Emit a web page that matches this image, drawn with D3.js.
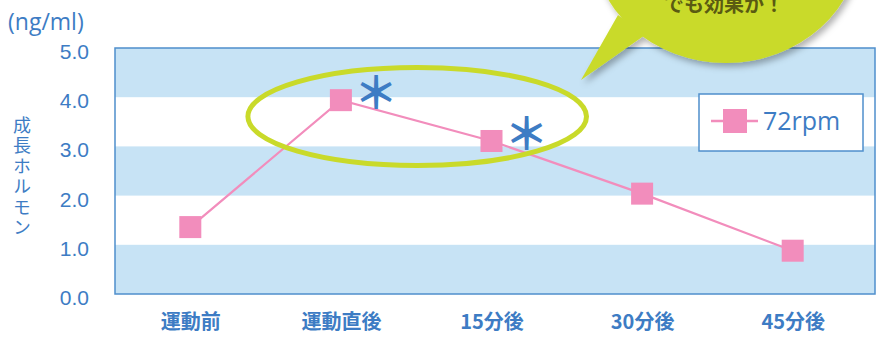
<!DOCTYPE html>
<html><head><meta charset="utf-8">
<script src="https://cdn.jsdelivr.net/npm/d3@7"></script>
<style>
body{margin:0;background:#fff;}
svg{display:block;font-family:"Open Sans","Noto Sans CJK JP",sans-serif;}
</style></head>
<body>
<svg id="c" width="884" height="340"></svg>
<script>
const categories = ["運動前","運動直後","15分後","30分後","45分後"];
const values72 = [1.36, 3.94, 3.11, 2.04, 0.88];
const yTicks = [0,1,2,3,4,5];
const yTickLabels = ["0.0","1.0","2.0","3.0","4.0","5.0"];
const seriesName = "72rpm";
const significant = [false, true, true, false, false];
const calloutText = "でも効果か！";

const blue = "#3d7cc4", pink = "#f28dbc", band = "#c7e3f5", green = "#c9da2a";
const svg = d3.select("#c");
const plotL = 115, plotR = 875, plotT = 48, plotB = 294;
const x = d3.scalePoint().domain(categories).range([plotL, 868]).padding(0.5);
const y = d3.scaleLinear().domain([0,5]).range([plotB, plotT]);

const defs = svg.append("defs");
const f = defs.append("filter").attr("id","sh").attr("x","-20%").attr("y","-20%").attr("width","140%").attr("height","140%");
f.append("feDropShadow").attr("dx",3).attr("dy",4).attr("stdDeviation",3).attr("flood-color","#000").attr("flood-opacity",0.3);

// bands
const bandIdx = [0,2,4];
svg.append("g").selectAll("rect").data(bandIdx).join("rect")
  .attr("x", plotL).attr("width", plotR - plotL)
  .attr("y", d => y(d+1)).attr("height", d => y(d) - y(d+1))
  .attr("fill", band);
svg.append("rect").attr("x",plotL).attr("y",plotT).attr("width",plotR-plotL).attr("height",plotB-plotT)
  .attr("fill","none").attr("stroke","#4f8fcc").attr("stroke-width",1.5);

// y axis
const yAxis = d3.axisLeft(y).tickValues(yTicks).tickFormat((d,i)=>yTickLabels[i]).tickSize(0).tickPadding(26);
const ya = svg.append("g").attr("transform",`translate(${plotL},0)`).call(yAxis);
ya.select(".domain").remove();
ya.selectAll("text").attr("fill",blue).style("font-size","21px").attr("dy","0.5em");

// x axis
const xAxis = d3.axisBottom(x).tickSize(0).tickPadding(21);
const xa = svg.append("g").attr("transform",`translate(0,${plotB})`).call(xAxis);
xa.select(".domain").remove();
xa.selectAll("text").attr("fill",blue).style("font-size","20px").style("font-weight","bold")
  .style("font-family","'Noto Sans CJK JP',sans-serif");

// unit & title
svg.append("text").attr("x",8).attr("y",30).attr("fill",blue).style("font-size","23px").text("(ng/ml)");
svg.append("text").attr("x",22).attr("y",116).attr("fill",blue)
  .style("font-size","18px").style("font-family","'Noto Sans CJK JP',sans-serif")
  .style("writing-mode","vertical-rl").style("letter-spacing","2.5px")
  .text("成長ホルモン");

// line
const line = d3.line().x((d,i)=>x(categories[i])).y(d=>y(d));
svg.append("path").datum(values72).attr("d",line).attr("fill","none").attr("stroke",pink).attr("stroke-width",2.2);
svg.append("g").selectAll("rect").data(values72).join("rect")
  .attr("x",(d,i)=>x(categories[i])-11).attr("y",d=>y(d)-11).attr("width",22).attr("height",22).attr("fill",pink);

// ellipse highlight
const e1 = x(categories[1]), e2 = x(categories[2]);
svg.append("ellipse").attr("cx",(e1+e2)/2+1).attr("cy",(y(values72[1])+y(values72[2]))/2-4)
  .attr("rx",(e2-e1)/2+94).attr("ry",49).attr("fill","none").attr("stroke",green).attr("stroke-width",5);

// asterisks
svg.append("g").selectAll("text").data(values72.map((v,i)=>({v,i})).filter(d=>significant[d.i])).join("text")
  .attr("x",d=>x(categories[d.i])+35).attr("y",d=>y(d.v)+9)
  .attr("text-anchor","middle").attr("fill",blue).style("font-size","44px").style("font-weight","bold")
  .style("font-family","'Noto Sans CJK JP',sans-serif").text("＊");

// legend
const lg = svg.append("g").attr("transform","translate(699,94)");
lg.append("rect").attr("width",164).attr("height",57).attr("fill","#fff").attr("stroke","#4f8fcc").attr("stroke-width",1.5);
lg.append("line").attr("x1",12).attr("x2",59).attr("y1",27).attr("y2",27).attr("stroke",pink).attr("stroke-width",2.5);
lg.append("rect").attr("x",24).attr("y",15).attr("width",24).attr("height",24).attr("fill",pink);
lg.append("text").attr("x",64).attr("y",36).attr("fill",blue).style("font-size","25px").text(seriesName);

// callout bubble
const cb = svg.append("g").attr("filter","url(#sh)");
cb.append("path").attr("d","M618,15 L581,80 L645,35 Z").attr("fill",green);
cb.append("ellipse").attr("cx",726).attr("cy",-58).attr("rx",134).attr("ry",121).attr("fill",green);
svg.append("text").attr("x",724).attr("y",12).attr("text-anchor","middle").attr("fill","#5a5a12")
  .style("font-size","20px").style("font-family","'Noto Sans CJK JP',sans-serif").style("font-weight","bold").text(calloutText);
</script>
</body></html>
